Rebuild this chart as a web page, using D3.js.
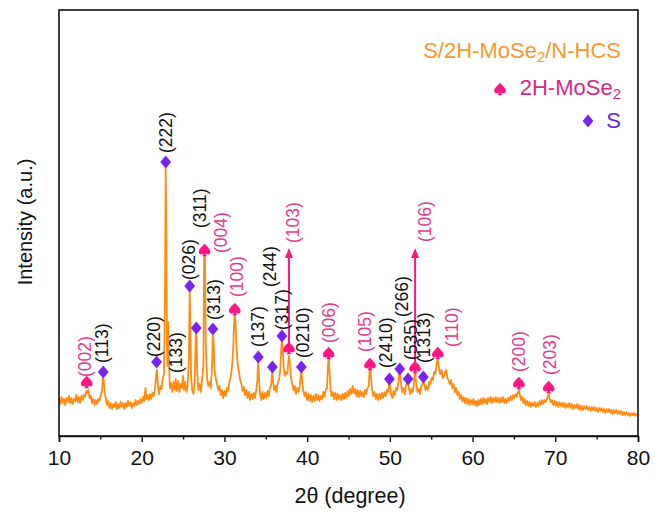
<!DOCTYPE html>
<html>
<head>
<meta charset="utf-8">
<script src="https://cdn.jsdelivr.net/npm/d3@7"></script>
<style>
  html, body { margin: 0; padding: 0; background: #fff; }
  svg { display: block; font-family: "Liberation Sans", Arial, sans-serif; }
</style>
</head>
<body>
<svg id="chart" width="655" height="517"></svg>
<script>
// XRD pattern of S/2H-MoSe2/N-HCS: [2θ (degree), intensity (a.u.)]
const pattern = [
  [10.0,38],[10.15,32],[10.3,39],[10.45,33],[10.6,37],[10.75,31],[10.9,38],[11.05,34],[11.2,40],[11.35,33],
  [11.5,38],[11.65,32],[11.8,37],[11.95,35],[12.1,41],[12.25,34],[12.4,39],[12.55,33],[12.7,40],[12.85,36],
  [13.0,41],[13.15,39],[13.3,45],[13.4,43],[13.55,46],[13.7,38],[13.85,40],[14.0,33],[14.15,37],[14.3,31],
  [14.45,36],[14.6,32],[14.75,37],[14.9,35],[15.05,41],[15.2,46],[15.3,58],[15.4,56],[15.5,44],[15.65,38],
  [15.8,31],[15.95,35],[16.1,28],[16.25,33],[16.4,27],[16.55,32],[16.7,29],[16.85,34],[17.0,27],[17.15,32],
  [17.3,28],[17.45,34],[17.6,29],[17.75,33],[17.9,27],[18.05,33],[18.2,29],[18.35,35],[18.5,30],[18.65,34],
  [18.8,28],[18.95,33],[19.1,30],[19.25,36],[19.4,31],[19.55,35],[19.7,32],[19.85,37],[20.0,33],[20.15,39],
  [20.3,35],[20.45,48],[20.55,37],[20.7,41],[20.85,36],[21.0,42],[21.15,37],[21.3,43],[21.45,40],[21.6,48],
  [21.75,62],[21.85,66],[21.95,50],[22.1,42],[22.25,50],[22.4,47],[22.55,58],[22.7,62],[22.82,150],[22.9,268],
  [22.98,200],[23.05,90],[23.12,70],[23.2,114],[23.28,80],[23.4,48],[23.55,53],[23.7,44],[23.85,54],[24.0,46],
  [24.1,57],[24.25,45],[24.4,55],[24.55,44],[24.7,52],[24.85,48],[25.0,60],[25.1,46],[25.25,54],[25.4,44],
  [25.55,50],[25.7,76],[25.8,145],[25.88,110],[25.97,60],[26.1,46],[26.25,42],[26.4,54],[26.55,104],[26.62,100],
  [26.72,62],[26.85,46],[27.0,52],[27.15,44],[27.3,56],[27.45,70],[27.55,182],[27.65,178],[27.75,90],[27.9,58],
  [28.05,50],[28.2,54],[28.35,48],[28.5,70],[28.6,100],[28.68,96],[28.8,66],[28.95,58],[29.1,52],[29.25,46],
  [29.4,50],[29.55,41],[29.7,46],[29.85,38],[30.0,45],[30.15,40],[30.3,48],[30.45,45],[30.6,54],[30.75,58],
  [30.9,68],[31.05,84],[31.15,110],[31.25,122],[31.35,112],[31.45,90],[31.6,72],[31.75,64],[31.9,56],[32.05,52],
  [32.2,45],[32.35,49],[32.5,41],[32.65,46],[32.8,38],[32.95,44],[33.1,36],[33.25,42],[33.4,37],[33.55,43],
  [33.7,38],[33.85,46],[33.98,56],[34.08,76],[34.18,58],[34.3,42],[34.45,36],[34.6,44],[34.75,37],[34.9,43],
  [35.05,38],[35.2,45],[35.35,40],[35.5,48],[35.65,50],[35.78,66],[35.88,56],[36.0,46],[36.15,50],[36.3,44],
  [36.45,54],[36.6,56],[36.75,66],[36.87,86],[36.95,98],[37.05,88],[37.15,70],[37.3,60],[37.45,64],[37.6,62],
  [37.72,74],[37.8,80],[37.9,74],[38.05,58],[38.2,52],[38.35,46],[38.5,50],[38.65,42],[38.8,48],[38.95,44],
  [39.1,50],[39.2,58],[39.3,66],[39.4,54],[39.55,44],[39.7,40],[39.85,44],[40.0,36],[40.15,42],[40.3,35],
  [40.45,41],[40.6,34],[40.75,40],[40.9,35],[41.05,42],[41.2,36],[41.35,41],[41.5,35],[41.65,40],[41.8,37],
  [41.95,44],[42.1,39],[42.25,46],[42.4,48],[42.52,70],[42.6,80],[42.7,66],[42.82,48],[42.95,40],[43.1,44],
  [43.25,37],[43.4,43],[43.55,36],[43.7,42],[43.85,37],[44.0,41],[44.15,36],[44.3,42],[44.45,37],[44.6,43],
  [44.75,38],[44.9,45],[45.05,40],[45.2,47],[45.35,42],[45.5,50],[45.65,43],[45.8,47],[45.95,40],[46.1,46],
  [46.25,39],[46.4,45],[46.55,40],[46.7,44],[46.85,39],[47.0,46],[47.15,42],[47.3,48],[47.45,50],[47.55,66],
  [47.62,70],[47.72,58],[47.85,46],[48.0,40],[48.15,44],[48.3,37],[48.45,42],[48.6,36],[48.75,42],[48.9,37],
  [49.05,43],[49.2,38],[49.35,44],[49.5,40],[49.65,46],[49.8,44],[49.92,54],[50.02,50],[50.15,42],[50.3,38],
  [50.45,45],[50.6,41],[50.75,48],[50.9,46],[51.05,54],[51.15,64],[51.25,62],[51.38,50],[51.5,44],[51.65,48],
  [51.8,42],[51.95,50],[52.1,54],[52.2,56],[52.3,48],[52.45,42],[52.6,47],[52.75,44],[52.9,52],[53.0,62],
  [53.08,64],[53.2,50],[53.35,44],[53.5,47],[53.65,42],[53.8,50],[53.95,52],[54.05,58],[54.15,52],[54.3,46],
  [54.45,50],[54.6,46],[54.75,54],[54.9,52],[55.05,58],[55.2,56],[55.35,64],[55.5,62],[55.65,72],[55.75,76],
  [55.85,74],[55.97,66],[56.1,62],[56.25,66],[56.4,58],[56.55,60],[56.7,64],[56.82,66],[56.95,58],[57.1,56],
  [57.25,52],[57.4,56],[57.55,48],[57.7,52],[57.85,44],[58.0,48],[58.15,41],[58.3,44],[58.45,37],[58.6,41],
  [58.75,35],[58.9,39],[59.05,33],[59.2,38],[59.35,32],[59.5,37],[59.65,31],[59.8,36],[59.95,32],[60.1,37],
  [60.25,31],[60.4,35],[60.55,30],[60.7,36],[60.85,31],[61.0,37],[61.15,32],[61.3,38],[61.45,33],[61.6,37],
  [61.75,32],[61.9,38],[62.05,34],[62.2,39],[62.35,33],[62.5,38],[62.65,34],[62.8,39],[62.95,34],[63.1,38],
  [63.25,33],[63.4,38],[63.55,34],[63.7,39],[63.85,33],[64.0,37],[64.15,33],[64.3,38],[64.45,35],[64.6,40],
  [64.75,36],[64.9,41],[65.05,38],[65.2,42],[65.35,39],[65.5,44],[65.6,46],[65.7,42],[65.85,36],[66.0,39],
  [66.15,33],[66.3,37],[66.45,31],[66.6,35],[66.75,30],[66.9,34],[67.05,29],[67.2,33],[67.35,30],[67.5,34],
  [67.65,29],[67.8,33],[67.95,30],[68.1,35],[68.25,31],[68.4,36],[68.55,32],[68.7,36],[68.85,34],[69.0,37],
  [69.1,40],[69.2,42],[69.3,38],[69.45,34],[69.6,36],[69.75,31],[69.9,35],[70.05,30],[70.2,34],[70.35,29],
  [70.5,34],[70.65,30],[70.8,33],[70.95,29],[71.1,33],[71.25,28],[71.4,32],[71.55,29],[71.7,33],[71.85,28],
  [72.0,32],[72.15,27],[72.3,31],[72.45,28],[72.6,32],[72.75,27],[72.9,31],[73.05,26],[73.2,30],[73.35,26],
  [73.5,30],[73.65,27],[73.8,30],[73.95,26],[74.1,29],[74.25,25],[74.4,29],[74.55,26],[74.7,29],[74.85,25],
  [75.0,28],[75.15,24],[75.3,28],[75.45,25],[75.6,28],[75.75,24],[75.9,27],[76.05,23],[76.2,27],[76.35,24],
  [76.5,27],[76.65,23],[76.8,26],[76.95,22],[77.1,26],[77.25,23],[77.4,26],[77.55,22],[77.7,25],[77.85,22],
  [78.0,25],[78.15,21],[78.3,24],[78.45,21],[78.6,24],[78.75,21],[78.9,23],[79.05,20],[79.2,23],[79.35,21],
  [79.5,23],[79.65,20],[79.8,22],[80.0,21]
];

// S reflections: Miller indices, 2θ, marker level (a.u.)
const sHkl   = ["(113)","(220)","(222)","(026)","(311)","(313)","(137)","(244)","(317)","(0210)","(2410)","(266)","(535)","(1313)"];
const sAngle = [15.35, 21.8, 22.9, 25.8, 26.6, 28.6, 34.1, 35.8, 36.95, 39.3, 49.95, 51.2, 52.2, 54.05];
const sLevel = [64, 74, 274, 150, 108, 107, 79, 69, 100, 69, 57, 67, 57, 59];

// S reflection labelled without a marker
const sExtraHkl = ["(133)"];
const sExtraAngle = [24.2];
const sExtraLevel = [55];

// 2H-MoSe2 reflections
const mHkl   = ["(002)","(004)","(100)","(103)","(006)","(105)","(106)","(110)","(200)","(203)"];
const mAngle = [13.35, 27.6, 31.25, 37.8, 42.6, 47.6, 53.05, 55.8, 65.6, 69.2];
const mLevel = [54, 186, 127, 88, 83, 72, 69, 83, 53, 49];
// strong MoSe2 reflections drawn with an arrow, arrow tip level
const arrowHkl = ["(103)","(106)"];
const arrowTip = [188, 188];

const xTicks = [10, 20, 30, 40, 50, 60, 70, 80];
const xMinor = [15, 25, 35, 45, 55, 65, 75];

const C = {
  curve: "#ff8c12",
  title: "#f39a2e",
  pink: "#ff1583",
  pinkText: "#e23a8e",
  purple: "#7a22f2",
  purpleText: "#6b24d8"
};

const svg = d3.select("#chart");
const m = { left: 59, right: 638, top: 10, bottom: 436 };
const x = d3.scaleLinear().domain([10, 80]).range([m.left, m.right]);
const y = d3.scaleLinear().domain([0, 426]).range([m.bottom, m.top]);

// pattern curve
svg.append("path")
  .datum(pattern)
  .attr("fill", "none")
  .attr("stroke", C.curve)
  .attr("stroke-width", 1.8)
  .attr("stroke-linejoin", "round")
  .attr("d", d3.line().x(d => x(d[0])).y(d => y(d[1])));

// frame
svg.append("rect")
  .attr("x", m.left).attr("y", m.top)
  .attr("width", m.right - m.left).attr("height", m.bottom - m.top)
  .attr("fill", "none").attr("stroke", "#111").attr("stroke-width", 1.6);

// x axis
const xAxis = svg.append("g")
  .attr("transform", `translate(0,${m.bottom})`)
  .call(d3.axisBottom(x).tickValues(xTicks).tickSize(6).tickPadding(8).tickFormat(d3.format("d")));
xAxis.select(".domain").attr("stroke", "#111").attr("stroke-width", 1.6);
xAxis.selectAll(".tick line").attr("stroke", "#111").attr("stroke-width", 1.4);
xAxis.selectAll(".tick text")
  .attr("font-family", "Liberation Sans, Arial, sans-serif")
  .attr("font-size", 21).attr("fill", "#111");
svg.append("g")
  .attr("transform", `translate(0,${m.bottom})`)
  .call(d3.axisBottom(x).tickValues(xMinor).tickSize(3.5).tickFormat(""))
  .call(g => g.select(".domain").remove())
  .selectAll(".tick line").attr("stroke", "#111").attr("stroke-width", 1.4);

// axis titles
svg.append("text")
  .attr("x", 350).attr("y", 503)
  .attr("text-anchor", "middle").attr("font-size", 21.5).attr("fill", "#111")
  .text("2θ (degree)");
svg.append("text")
  .attr("transform", "translate(32,222) rotate(-90)")
  .attr("text-anchor", "middle").attr("font-size", 20).attr("fill", "#111")
  .text("Intensity (a.u.)");

// marker shapes
const spade = "M0,-6.2 C2.3,-3.2 5.8,-1.4 5.8,2 C5.8,4.8 2.8,5.3 1,3.2 L2.3,6.2 L-2.3,6.2 L-1,3.2 C-2.8,5.3 -5.8,4.8 -5.8,2 C-5.8,-1.4 -2.3,-3.2 0,-6.2 Z";
const diamond = "M0,-6.5 L5.4,0 L0,6.5 L-5.4,0 Z";

// label placement (px): horizontal nudge, gap between marker and start of label
const place = {
  "(113)": [-1.5, 9], "(220)": [-2.5, 5], "(222)": [0, 9], "(026)": [-0.5, 6], "(311)": [4, 100],
  "(313)": [1, 9], "(137)": [0, 10], "(244)": [-2.5, 80], "(317)": [0, 6], "(0210)": [2, 9],
  "(2410)": [-3, 11], "(266)": [2.5, 52], "(535)": [2.5, 19], "(1313)": [1, 14], "(133)": [0, 8],
  "(002)": [-2, 5], "(004)": [16, -3], "(100)": [2.5, 12], "(103)": [4.5, 5], "(006)": [0.5, 10],
  "(105)": [-5, 12], "(106)": [10, 6], "(110)": [14.5, 6], "(200)": [0, 11], "(203)": [1, 12]
};

function label(hkl, angle, level, color) {
  const p = place[hkl];
  svg.append("text")
    .attr("transform", `translate(${x(angle) + p[0]},${y(level) - p[1]}) rotate(-90)`)
    .attr("dominant-baseline", "central")
    .attr("font-size", 17.5)
    .attr("fill", color)
    .text(hkl);
}

// arrows for the strong MoSe2 reflections
arrowHkl.forEach((h, i) => {
  const k = mHkl.indexOf(h);
  const ax = x(mAngle[k]);
  const y0 = y(mLevel[k]) - 5;
  const y1 = y(arrowTip[i]);
  svg.append("line")
    .attr("x1", ax).attr("x2", ax).attr("y1", y0).attr("y2", y1 + 8)
    .attr("stroke", C.pink).attr("stroke-width", 2);
  svg.append("path")
    .attr("d", `M${ax},${y1} L${ax + 4},${y1 + 10} L${ax - 4},${y1 + 10} Z`)
    .attr("fill", C.pink);
});

// S markers and labels
sHkl.forEach((h, i) => {
  svg.append("path")
    .attr("d", diamond)
    .attr("transform", `translate(${x(sAngle[i])},${y(sLevel[i])})`)
    .attr("fill", C.purple);
  label(h, sAngle[i], sLevel[i], "#111");
});
sExtraHkl.forEach((h, i) => label(h, sExtraAngle[i], sExtraLevel[i], "#111"));

// MoSe2 markers and labels
mHkl.forEach((h, i) => {
  svg.append("path")
    .attr("d", spade)
    .attr("transform", `translate(${x(mAngle[i])},${y(mLevel[i])})`)
    .attr("fill", C.pink);
  const ai = arrowHkl.indexOf(h);
  label(h, mAngle[i], ai >= 0 ? arrowTip[ai] : mLevel[i], C.pinkText);
});

// legend
const lg = svg.append("g").attr("font-size", 22).attr("text-anchor", "end");
const t1 = lg.append("text").attr("x", 621).attr("y", 58).attr("fill", C.title);
t1.append("tspan").text("S/2H-MoSe");
t1.append("tspan").attr("font-size", 15).attr("dy", 4).text("2");
t1.append("tspan").attr("dy", -4).text("/N-HCS");

const t2 = lg.append("text").attr("x", 621).attr("y", 95).attr("fill", "#d82883");
t2.append("tspan").text("2H-MoSe");
t2.append("tspan").attr("font-size", 15).attr("dy", 4).text("2");
lg.append("path").attr("d", spade).attr("transform", "translate(500,89)").attr("fill", C.pink);

lg.append("text").attr("x", 621).attr("y", 128).attr("fill", C.purpleText).text("S");
lg.append("path").attr("d", diamond).attr("transform", "translate(588,121)").attr("fill", C.purple);
</script>
</body>
</html>
